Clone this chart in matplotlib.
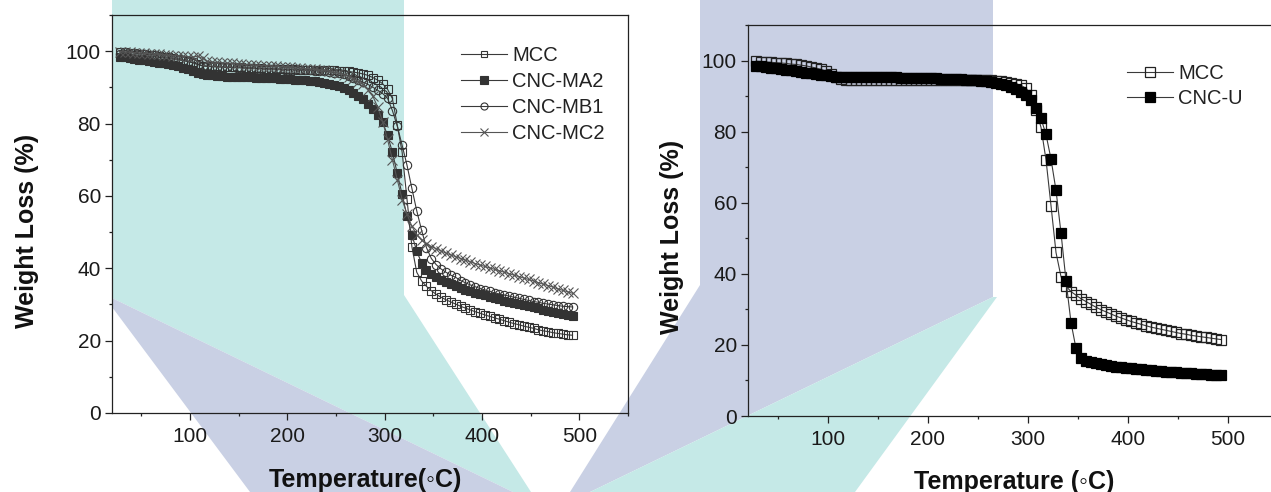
import matplotlib
matplotlib.use("Agg")
import matplotlib.pyplot as plt
from matplotlib.ticker import MultipleLocator

plt.rcParams['font.family'] = ['Liberation Sans', 'DejaVu Sans']

W, H = 1271, 492

# temperatures (°C) of the recorded points, one every 5 degrees
temp = [28, 33, 38, 43, 48, 53, 58, 63, 68, 73,
        78, 83, 88, 93, 98, 103, 108, 113, 118, 123,
        128, 133, 138, 143, 148, 153, 158, 163, 168, 173,
        178, 183, 188, 193, 198, 203, 208, 213, 218, 223,
        228, 233, 238, 243, 248, 253, 258, 263, 268, 273,
        278, 283, 288, 293, 298, 303, 308, 313, 318, 323,
        328, 333, 338, 343, 348, 353, 358, 363, 368, 373,
        378, 383, 388, 393, 398, 403, 408, 413, 418, 423,
        428, 433, 438, 443, 448, 453, 458, 463, 468, 473,
        478, 483, 488, 493]

# left panel
mcc_left = [99.8, 99.7, 99.6, 99.5, 99.3, 99.2, 99.0, 98.9, 98.7, 98.5,
            98.3, 98.1, 97.9, 97.6, 97.3, 96.9, 96.4, 96.0, 95.9, 95.8,
            95.8, 95.7, 95.6, 95.6, 95.5, 95.5, 95.4, 95.4, 95.3, 95.3,
            95.2, 95.2, 95.1, 95.1, 95.0, 95.0, 95.0, 94.9, 94.9, 94.9,
            94.8, 94.8, 94.8, 94.7, 94.7, 94.6, 94.5, 94.4, 94.2, 94.0,
            93.7, 93.3, 92.7, 92.0, 91.0, 89.5, 86.9, 79.6, 72.1, 59.1,
            46.0, 38.9, 36.5, 35.0, 33.8, 32.8, 32.0, 31.3, 30.7, 30.1,
            29.5, 29.0, 28.5, 28.0, 27.6, 27.1, 26.7, 26.3, 25.9, 25.5,
            25.1, 24.7, 24.4, 24.0, 23.7, 23.4, 23.0, 22.7, 22.5, 22.2,
            22.0, 21.8, 21.6, 21.5]
cnc_ma2 = [98.5, 98.3, 98.1, 97.9, 97.7, 97.5, 97.2, 97.0, 96.8, 96.6,
           96.4, 96.1, 95.8, 95.4, 95.0, 94.5, 94.0, 93.6, 93.4, 93.3,
           93.2, 93.1, 93.0, 93.0, 92.9, 92.9, 92.8, 92.8, 92.7, 92.7,
           92.6, 92.6, 92.5, 92.4, 92.3, 92.2, 92.1, 92.0, 91.9, 91.8,
           91.7, 91.5, 91.3, 91.0, 90.7, 90.3, 89.8, 89.2, 88.5, 87.7,
           86.7, 85.5, 84.0, 82.3, 80.4, 76.7, 72.1, 66.2, 60.4, 54.4,
           49.3, 44.7, 41.5, 39.6, 38.4, 37.5, 36.8, 36.2, 35.6, 35.1,
           34.6, 34.1, 33.7, 33.3, 32.9, 32.5, 32.1, 31.7, 31.4, 31.0,
           30.7, 30.4, 30.1, 29.8, 29.5, 29.2, 28.9, 28.6, 28.3, 28.0,
           27.7, 27.4, 27.1, 26.8]
cnc_mb1 = [99.3, 99.2, 99.1, 99.0, 98.9, 98.8, 98.6, 98.5, 98.3, 98.2,
           98.0, 97.8, 97.6, 97.4, 97.1, 96.8, 96.3, 95.9, 95.8, 95.7,
           95.6, 95.6, 95.5, 95.5, 95.4, 95.4, 95.3, 95.3, 95.2, 95.2,
           95.1, 95.1, 95.0, 95.0, 94.9, 94.9, 94.8, 94.8, 94.7, 94.7,
           94.6, 94.5, 94.4, 94.3, 94.1, 93.9, 93.6, 93.2, 92.7, 92.1,
           91.4, 90.8, 90.0, 89.2, 88.3, 87.0, 83.6, 79.3, 74.0, 68.5,
           62.1, 55.9, 50.5, 45.7, 42.7, 41.0, 39.8, 38.9, 38.1, 37.5,
           36.6, 36.0, 35.4, 34.9, 34.4, 34.0, 33.6, 33.2, 32.9, 32.6,
           32.3, 32.0, 31.7, 31.4, 31.1, 30.8, 30.6, 30.3, 30.1, 29.9,
           29.7, 29.5, 29.4, 29.3]
cnc_mc2 = [99.9, 99.8, 99.7, 99.6, 99.5, 99.4, 99.3, 99.2, 99.1, 99.0,
           98.9, 98.8, 98.7, 98.6, 98.5, 98.4, 98.6, 98.0, 97.2, 97.0,
           96.9, 96.8, 96.7, 96.6, 96.5, 96.4, 96.3, 96.2, 96.1, 96.0,
           96.0, 95.9, 95.8, 95.7, 95.6, 95.5, 95.4, 95.3, 95.2, 95.1,
           95.0, 94.9, 94.7, 94.5, 94.2, 93.9, 93.5, 93.0, 92.4, 91.6,
           90.8, 89.4, 87.5, 84.5, 80.5, 75.6, 70.0, 64.5, 59.0, 55.0,
           51.6, 49.3, 47.8, 46.8, 46.0, 45.4, 44.8, 44.2, 43.7, 43.2,
           42.7, 42.2, 41.8, 41.3, 40.9, 40.5, 40.1, 39.7, 39.3, 38.9,
           38.5, 38.1, 37.7, 37.3, 36.9, 36.5, 36.0, 35.6, 35.2, 34.8,
           34.3, 33.9, 33.5, 33.1]

# right panel
mcc_right = [99.8, 99.7, 99.6, 99.5, 99.4, 99.3, 99.2, 99.0, 98.9, 98.7,
             98.5, 98.2, 97.9, 97.5, 97.0, 96.3, 95.5, 94.7, 94.6, 94.6,
             94.6, 94.6, 94.6, 94.5, 94.5, 94.5, 94.5, 94.5, 94.5, 94.5,
             94.4, 94.4, 94.4, 94.4, 94.4, 94.4, 94.4, 94.4, 94.4, 94.4,
             94.4, 94.4, 94.4, 94.4, 94.4, 94.4, 94.4, 94.4, 94.3, 94.2,
             94.0, 93.8, 93.5, 93.0, 92.2, 90.4, 86.2, 81.2, 72.1, 59.2,
             46.0, 39.2, 36.5, 35.0, 34.0, 33.0, 32.2, 31.4, 30.6, 29.9,
             29.3, 28.7, 28.1, 27.6, 27.1, 26.6, 26.2, 25.8, 25.4, 25.0,
             24.7, 24.4, 24.1, 23.8, 23.5, 23.2, 23.0, 22.7, 22.5, 22.3,
             22.1, 21.9, 21.7, 21.5]
cnc_u = [98.6, 98.4, 98.2, 98.0, 97.8, 97.6, 97.4, 97.2, 97.0, 96.8,
         96.6, 96.4, 96.2, 96.0, 95.8, 95.6, 95.4, 95.4, 95.4, 95.4,
         95.4, 95.4, 95.4, 95.3, 95.3, 95.3, 95.3, 95.3, 95.3, 95.2,
         95.2, 95.2, 95.2, 95.1, 95.1, 95.0, 95.0, 94.9, 94.9, 94.8,
         94.8, 94.7, 94.6, 94.5, 94.4, 94.3, 94.2, 93.9, 93.7, 93.4,
         93.0, 92.5, 92.0, 91.2, 90.3, 89.0, 86.7, 83.7, 79.2, 72.3,
         63.5, 51.5, 38.1, 26.3, 19.0, 16.2, 15.5, 15.1, 14.8, 14.5,
         14.3, 14.1, 13.9, 13.8, 13.6, 13.5, 13.3, 13.2, 13.0, 12.9,
         12.8, 12.7, 12.5, 12.4, 12.3, 12.2, 12.1, 12.0, 11.9, 11.8,
         11.7, 11.6, 11.6, 11.5]

TEAL = '#c5e9e7'
LAV = '#c9d0e4'
LINE = '#3a3a3a'

fig = plt.figure(figsize=(W / 100, H / 100), dpi=100)

# watermark-like colour bands behind the plots (pixel space)
bg = fig.add_axes([0, 0, 1, 1], zorder=0)
bg.set_xlim(0, W)
bg.set_ylim(H, 0)
bg.axis('off')
bands = [
    (TEAL, [(112, 0), (404, 0), (404, 295), (531, 492), (513, 492), (112, 298)]),
    (LAV, [(112, 298), (513, 492), (250, 492), (112, 307)]),
    (LAV, [(700, 0), (993, 0), (993, 297), (590, 492), (570, 492), (700, 285)]),
    (TEAL, [(993, 297), (997, 297), (855, 492), (590, 492)]),
]
for col, pts in bands:
    xs, ys = zip(*pts)
    bg.fill(xs, ys, color=col, lw=0)


def px_axes(x0, x1, ytop, ybot):
    ax = fig.add_axes([x0 / W, (H - ybot) / H, (x1 - x0) / W, (ybot - ytop) / H], zorder=1)
    ax.patch.set_alpha(0)
    return ax


def style(ax):
    ax.set_xlim(20, 550)
    ax.set_ylim(0, 110)
    ax.xaxis.set_major_locator(MultipleLocator(100))
    ax.xaxis.set_minor_locator(MultipleLocator(50))
    ax.yaxis.set_major_locator(MultipleLocator(20))
    ax.yaxis.set_minor_locator(MultipleLocator(10))
    ax.tick_params(which='both', direction='out', top=False, right=False,
                   width=0.9, color='#222222', labelsize=15, labelcolor='#1a1a1a')
    ax.tick_params(which='major', length=5)
    ax.tick_params(which='minor', length=2.5)
    ax.tick_params(axis='x', pad=5)
    ax.tick_params(axis='y', pad=3)
    for s in ax.spines.values():
        s.set_linewidth(0.9)
        s.set_color('#222222')


# ---- left panel
ax1 = px_axes(112, 628, 15, 413)
ax1.plot(temp, mcc_left, '-', color=LINE, lw=0.8, marker='s', ms=5.8, mfc='none',
         mec='#333333', mew=0.8, label='MCC')
ax1.plot(temp, cnc_ma2, '-', color=LINE, lw=0.8, marker='s', ms=6.2, mfc='#333333',
         mec='#333333', mew=0.8, label='CNC-MA2')
ax1.plot(temp, cnc_mb1, '-', color=LINE, lw=0.8, marker='o', ms=6, mfc='none',
         mec='#333333', mew=0.8, label='CNC-MB1')
ax1.plot(temp, cnc_mc2, '-', color='#555555', lw=0.8, marker='x', ms=6.5,
         mec='#555555', mew=0.8, label='CNC-MC2')
style(ax1)
ax1.legend(loc='upper left', bbox_to_anchor=(461 / W, 1 - 46 / H), bbox_transform=fig.transFigure,
           frameon=False, fontsize=14.5, handlelength=2.3, handletextpad=0.25,
           labelspacing=0.35, borderpad=0, borderaxespad=0, numpoints=1,
           labelcolor='#222222', markerscale=0.85)

# ---- right panel
ax2 = px_axes(748, 1278, 25, 416)
ax2.plot(temp, mcc_right, '-', color=LINE, lw=0.8, marker='s', ms=7, mfc='none',
         mec='#222222', mew=0.9, label='MCC')
ax2.plot(temp, cnc_u, '-', color=LINE, lw=0.8, marker='s', ms=7, mfc='black',
         mec='black', mew=0.9, label='CNC-U')
style(ax2)
ax2.legend(loc='upper left', bbox_to_anchor=(1127 / W, 1 - 64 / H), bbox_transform=fig.transFigure,
           frameon=False, fontsize=14.5, handlelength=2.3, handletextpad=0.25,
           labelspacing=0.3, borderpad=0, borderaxespad=0, numpoints=1,
           labelcolor='#222222')

# axis titles
lab = dict(fontsize=18, fontweight='bold', color='#111111', ha='center', va='center')
fig.text(365 / W, 1 - 480 / H, 'Temperature(\u25e6C)', **lab)
fig.text(1014 / W, 1 - 482 / H, 'Temperature (\u25e6C)', **lab)
fig.text(27 / W, 1 - 231 / H, 'Weight Loss (%)', rotation=90, **lab)
fig.text(672 / W, 1 - 237 / H, 'Weight Loss (%)', rotation=90, **lab)

fig.savefig('out.png', dpi=100)
